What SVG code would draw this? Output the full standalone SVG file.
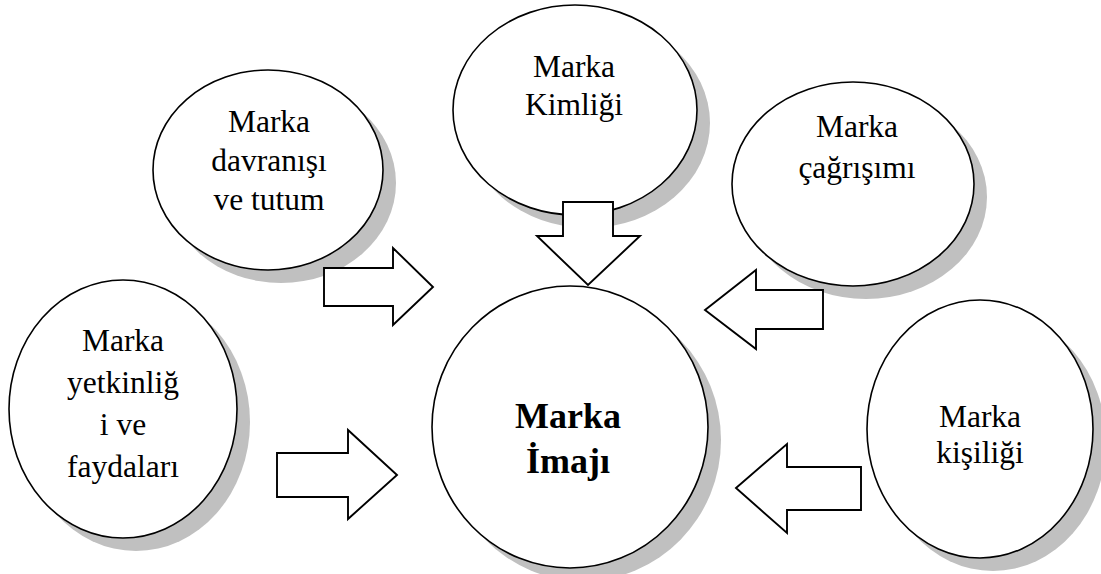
<svg xmlns="http://www.w3.org/2000/svg" width="1101" height="574" viewBox="0 0 1101 574">
<style>
.sh{fill:#c0c0c0;stroke:none}
.el{fill:#fff;stroke:#000;stroke-width:1.6}
text{font-family:'Liberation Serif','Times New Roman',Tinos,'DejaVu Serif',serif;font-size:31.5px;fill:#000;text-anchor:middle}
.b{font-weight:bold;font-size:36px}
.ar{fill:#fff;stroke:#000;stroke-width:1.9;stroke-linejoin:miter}
</style>
<rect width="1101" height="574" fill="#fff"/>
<g id="node-yetkinlik">
<ellipse class="sh" cx="136" cy="422" rx="114" ry="129"/>
<ellipse class="el" cx="123" cy="409" rx="114" ry="129"/>
<text><tspan x="123" y="351">Marka</tspan><tspan x="123" y="393">yetkinliğ</tspan><tspan x="123" y="435">i ve</tspan><tspan x="123" y="477">faydaları</tspan></text>
</g>
<g id="node-davranis">
<ellipse class="sh" cx="281" cy="183" rx="115" ry="100"/>
<ellipse class="el" cx="268" cy="170" rx="115" ry="100"/>
<text><tspan x="269" y="132">Marka</tspan><tspan x="269" y="171">davranışı</tspan><tspan x="269" y="210">ve tutum</tspan></text>
</g>
<g id="node-kimlik">
<ellipse class="sh" cx="588" cy="123" rx="122" ry="105"/>
<ellipse class="el" cx="575" cy="110" rx="122" ry="105"/>
<text><tspan x="574" y="77">Marka</tspan><tspan x="574" y="115">Kimliği</tspan></text>
</g>
<g id="node-cagrisim">
<ellipse class="sh" cx="866" cy="197" rx="121" ry="102"/>
<ellipse class="el" cx="853" cy="184" rx="121" ry="102"/>
<text><tspan x="857" y="137">Marka</tspan><tspan x="857" y="178">çağrışımı</tspan></text>
</g>
<g id="node-kisilik">
<ellipse class="sh" cx="993" cy="442" rx="113" ry="129"/>
<ellipse class="el" cx="980" cy="429" rx="113" ry="129"/>
<text><tspan x="980" y="427">Marka</tspan><tspan x="980" y="463">kişiliği</tspan></text>
</g>
<g id="node-imaj">
<ellipse class="sh" cx="583" cy="440" rx="138" ry="141"/>
<ellipse class="el" cx="570" cy="427" rx="138" ry="141"/>
<text class="b"><tspan x="568" y="428">Marka</tspan><tspan x="568" y="473">İmajı</tspan></text>
</g>
<g id="connectors">
<polygon class="ar" points="563,202 613,202 613,236 640,236 588,285 537,236 563,236"/>
<polygon class="ar" points="324,268 393,268 393,248 433,287 393,325 393,306 324,306"/>
<polygon class="ar" points="705,310 756,270 756,290 823,290 823,329 756,329 756,349"/>
<polygon class="ar" points="277,453 348,453 348,430 397,475 348,519 348,497 277,497"/>
<polygon class="ar" points="736,488 787,444 787,467 861,467 861,510 787,510 787,533"/>
</g>
</svg>
